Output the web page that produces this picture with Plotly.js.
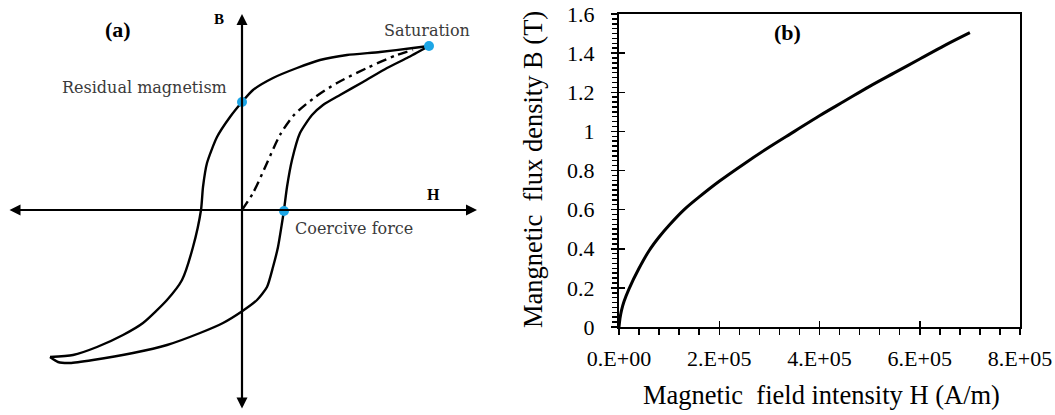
<!DOCTYPE html>
<html>
<head>
<meta charset="utf-8">
<script src="https://cdn.plot.ly/plotly-3.0.1.min.js"></script>
<style>html,body{margin:0;padding:0;background:#fff;}#chart{width:1055px;height:415px;}</style>
</head>
<body>
<div id="chart"></div>
<script>
// ---------- Panel (a): hysteresis loop (schematic, arbitrary units) ----------
const upperH = [187, 171, 138, 105, 78, 55, 31, 11, 0, -12, -25, -35, -39, -41, -49, -60, -75, -99, -119, -145, -169, -192];
const upperB = [164, 162, 158, 155, 150, 142, 132, 120, 108, 93, 73, 47, 23, 0, -37, -70, -90, -113, -125, -137, -145, -147];
const lowerH = [-192, -184, -172, -149, -109, -75, -42, -19, -1, 15, 25, 31, 36, 40, 42, 45, 50, 58, 70, 81, 98, 121, 145, 165, 187];
const lowerB = [-147, -152, -153, -150, -143, -135, -123, -113, -102, -90, -77, -57, -37, -13, 0, 23, 50, 77, 95, 105, 115, 128, 142, 152, 164];
const initH = [0, 11, 25, 38, 52, 72, 95, 125, 155, 171];
const initB = [0, 17, 47, 75, 95, 112, 127, 142, 155, 160];
const pointNames = ["Saturation", "Residual magnetism", "Coercive force"];
const pointH = [187, 0, 42];
const pointB = [164, 108, -1];

// ---------- Panel (b): B-H curve ----------
const fieldH = [0, 2e3, 5e3, 1e4, 2e4, 4e4, 6e4, 8e4, 1e5, 1.3e5, 1.6e5, 2e5, 2.5e5, 3e5, 3.5e5, 4e5, 4.5e5, 5e5, 5.5e5, 6e5, 6.5e5, 7e5];
const fluxB  = [0, 0.045, 0.085, 0.13, 0.195, 0.30, 0.39, 0.46, 0.52, 0.60, 0.665, 0.745, 0.835, 0.92, 1.00, 1.08, 1.155, 1.23, 1.30, 1.37, 1.44, 1.505];
const xTickVals = [0, 2e5, 4e5, 6e5, 8e5];
const xTickText = ["0.E+00", "2.E+05", "4.E+05", "6.E+05", "8.E+05"];
const yTickVals = [0, 0.2, 0.4, 0.6, 0.8, 1.0, 1.2, 1.4, 1.6];
const yTickText = ["0", "0.2", "0.4", "0.6", "0.8", "1", "1.2", "1.4", "1.6"];

const W = 1055, Hh = 415;
const serif = "'Liberation Serif', 'Times New Roman', Times, serif";
const labelFont = "'DejaVu Serif', serif";
const blue = "#1da6e6";

const traces = [
  {x: upperH, y: upperB, xaxis: "x", yaxis: "y", mode: "lines", line: {color: "#000", width: 2.4, shape: "spline", smoothing: 0.6}, hoverinfo: "skip"},
  {x: lowerH, y: lowerB, xaxis: "x", yaxis: "y", mode: "lines", line: {color: "#000", width: 2.4, shape: "spline", smoothing: 0.6}, hoverinfo: "skip"},
  {x: initH, y: initB, xaxis: "x", yaxis: "y", mode: "lines", line: {color: "#000", width: 2.4, dash: "10px,5px,3px,5px", shape: "spline", smoothing: 0.8}, hoverinfo: "skip"},
  {x: pointH, y: pointB, text: pointNames, xaxis: "x", yaxis: "y", mode: "markers", marker: {color: blue, size: 10}, hoverinfo: "text"},
  {x: fieldH, y: fluxB, xaxis: "x2", yaxis: "y2", mode: "lines", line: {color: "#000", width: 3, shape: "spline", smoothing: 1}},
  {x: [0], y: [0], xaxis: "x3", yaxis: "y3", mode: "markers", marker: {opacity: 0}, hoverinfo: "skip"}
];

const xDom = [619 / W, 1020 / W];
const yDom = [(Hh - 327) / Hh, (Hh - 14) / Hh];

const txt = (x, y, text, font, extra) => Object.assign({xref: "paper", yref: "paper", x: x / W, y: (Hh - y) / Hh, text: text,
  showarrow: false, xanchor: "center", yanchor: "middle", font: font}, extra || {});

const layout = {
  width: W, height: Hh,
  margin: {l: 0, r: 0, t: 0, b: 0},
  paper_bgcolor: "#fff", plot_bgcolor: "rgba(0,0,0,0)",
  showlegend: false,
  xaxis: {domain: [0, 490 / W], range: [-242, 248], visible: false, fixedrange: true},
  yaxis: {domain: [0, 1], range: [-205, 210], visible: false, fixedrange: true},
  xaxis2: {
    domain: xDom, range: [0, 8e5], anchor: "y2",
    showline: true, linecolor: "#000", linewidth: 2, mirror: true,
    showgrid: false, zeroline: false,
    ticks: "outside", ticklen: 6, tickwidth: 1.5, tickcolor: "#000",
    tickvals: xTickVals, ticktext: xTickText,
    tickfont: {family: serif, size: 22, color: "#000"},
    ticklabelstandoff: 5,
    minor: {dtick: 4e4, ticks: "outside", ticklen: 6, tickwidth: 1.5, tickcolor: "#000", showgrid: false}
  },
  yaxis2: {
    domain: yDom, range: [0, 1.6], anchor: "x2",
    showline: true, linecolor: "#000", linewidth: 2, mirror: true,
    showgrid: false, zeroline: false,
    ticks: "outside", ticklen: 6, tickwidth: 1.5, tickcolor: "#000",
    tickvals: yTickVals, ticktext: yTickText,
    tickfont: {family: serif, size: 22, color: "#000"},
    ticklabelstandoff: 12,
    minor: {dtick: 0.025, ticks: "outside", ticklen: 5, tickwidth: 1.5, tickcolor: "#000", showgrid: false}
  },
  xaxis3: {overlaying: "x2", anchor: "y3", range: [0, 8e5], ticks: "inside", ticklen: 6, tickwidth: 1.5, tickcolor: "#000",
           tickvals: xTickVals, showticklabels: false, showline: false, showgrid: false, zeroline: false},
  yaxis3: {overlaying: "y2", anchor: "x3", range: [0, 1.6], ticks: "inside", ticklen: 6, tickwidth: 1.5, tickcolor: "#000",
           tickvals: yTickVals, showticklabels: false, showline: false, showgrid: false, zeroline: false},
  annotations: [
    // axes arrows of panel (a)
    {xref: "x", yref: "y", axref: "x", ayref: "y", x: 235, y: 0, ax: -234, ay: 0, text: "", showarrow: true,
     arrowside: "end+start", arrowhead: 2, arrowsize: 1, arrowwidth: 2.2, arrowcolor: "#000", standoff: 0, startstandoff: 0},
    {xref: "x", yref: "y", axref: "x", ayref: "y", x: 0, y: 196, ax: 0, ay: -200, text: "", showarrow: true,
     arrowside: "end+start", arrowhead: 2, arrowsize: 1, arrowwidth: 2.2, arrowcolor: "#000", standoff: 0, startstandoff: 0},
    txt(118, 29, "<b>(a)</b>", {family: serif, size: 22, color: "#000"}),
    txt(219, 19, "<b>B</b>", {family: serif, size: 15, color: "#000"}),
    txt(433, 195, "<b>H</b>", {family: serif, size: 16, color: "#000"}),
    txt(427, 30, pointNames[0], {family: labelFont, size: 16, color: "#3a3a3a"}),
    txt(144, 87, pointNames[1], {family: labelFont, size: 16, color: "#3a3a3a"}),
    txt(354, 229, pointNames[2], {family: labelFont, size: 16, color: "#3a3a3a"}),
    // panel (b) texts
    txt(787, 32, "<b>(b)</b>", {family: serif, size: 22, color: "#000"}),
    txt(533, 170, "Mangnetic  flux density B (T)", {family: serif, size: 26.5, color: "#000"}, {textangle: -90}),
    txt(821, 395, "Magnetic  field intensity H (A/m)", {family: serif, size: 26.5, color: "#000"})
  ]
};

Plotly.newPlot("chart", traces, layout, {displayModeBar: false, staticPlot: true});
</script>
</body>
</html>
